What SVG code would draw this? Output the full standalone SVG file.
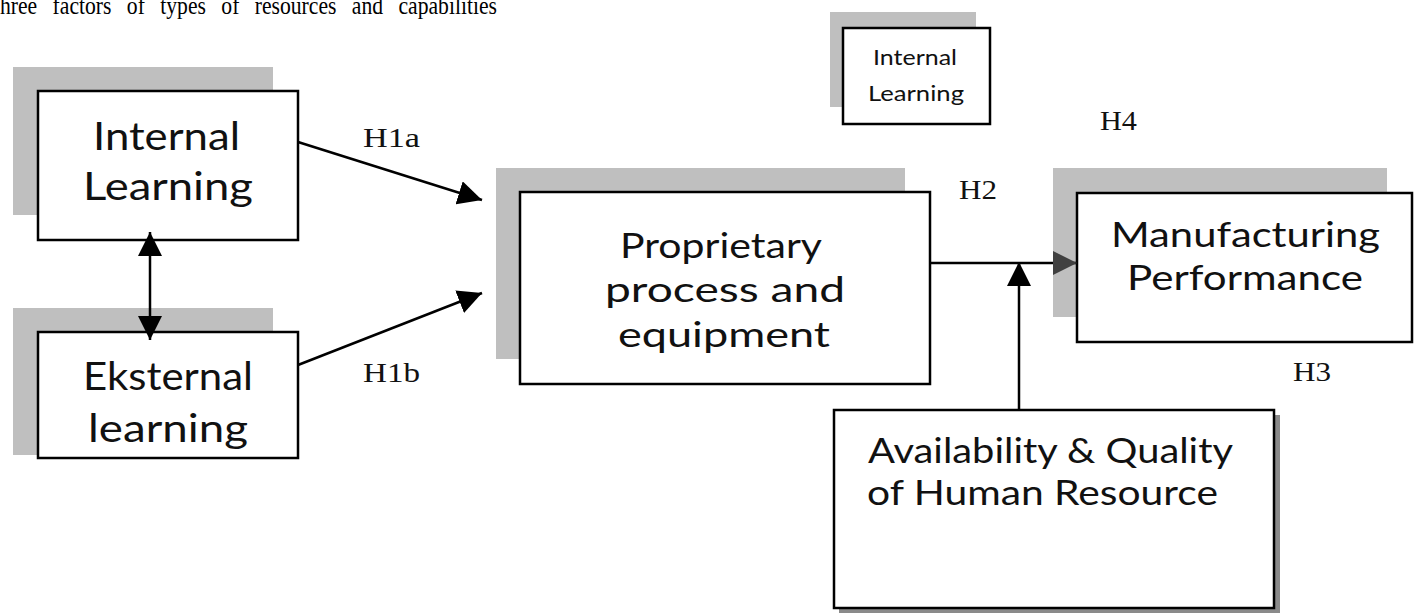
<svg xmlns="http://www.w3.org/2000/svg" width="1420" height="616" viewBox="0 0 1420 616">
  <style>
    .shadow { fill: #bfbfbf; }
    .hrshadow { fill: #8a8a8a; }
    .box { fill: #ffffff; stroke: #000000; stroke-width: 2.5; }
    .node { font-family: "Century Gothic", "Lato", sans-serif; fill: #111111; }
    .big { font-size: 38px; }
    .mid { font-size: 34px; }
    .small { font-size: 22px; }
    .lbl { font-family: "Liberation Serif", "Times New Roman", serif; font-size: 28px; fill: #111111; }
    .body { font-family: "Liberation Serif", "Times New Roman", serif; font-size: 26px; fill: #000000; }
    .conn { stroke: #000000; stroke-width: 2.5; fill: none; }
  </style>
  <defs>
    <marker id="tri" markerUnits="userSpaceOnUse" markerWidth="24" markerHeight="24" viewBox="0 0 22 22" refX="22" refY="11" orient="auto-start-reverse">
      <path d="M0,0 L22,11 L0,22 z" fill="#000000"/>
    </marker>
    <marker id="triGray" markerUnits="userSpaceOnUse" markerWidth="24" markerHeight="24" viewBox="0 0 22 22" refX="22" refY="11" orient="auto">
      <path d="M0,0 L22,11 L0,22 z" fill="#404040"/>
    </marker>
  </defs>

  <rect width="1420" height="616" fill="#ffffff"/>

  <!-- running text of the page above the figure, its upper part trimmed by the page edge -->
  <text class="body" x="0" y="14" textLength="497" lengthAdjust="spacingAndGlyphs" word-spacing="12">hree factors of types of resources and capabilities</text>

  <!-- nodes -->
  <g id="internal-learning">
    <rect class="shadow" x="13" y="67" width="260" height="148"/>
    <rect class="box" x="38" y="91" width="260" height="149"/>
    <text class="node big" x="93" y="150" textLength="147" lengthAdjust="spacingAndGlyphs">Internal</text>
    <text class="node big" x="83" y="200" textLength="170" lengthAdjust="spacingAndGlyphs">Learning</text>
  </g>

  <g id="eksternal-learning">
    <rect class="shadow" x="13" y="308" width="260" height="147"/>
    <rect class="box" x="38" y="332" width="260" height="126"/>
    <text class="node big" x="83" y="390" textLength="170" lengthAdjust="spacingAndGlyphs">Eksternal</text>
    <text class="node big" x="88" y="442" textLength="160" lengthAdjust="spacingAndGlyphs">learning</text>
  </g>

  <g id="proprietary-process">
    <rect class="shadow" x="496" y="168" width="409" height="191"/>
    <rect class="box" x="520" y="192" width="410" height="192"/>
    <text class="node mid" x="620" y="258" textLength="202" lengthAdjust="spacingAndGlyphs">Proprietary</text>
    <text class="node mid" x="605" y="302" textLength="240" lengthAdjust="spacingAndGlyphs">process and</text>
    <text class="node mid" x="618" y="347" textLength="212" lengthAdjust="spacingAndGlyphs">equipment</text>
  </g>

  <g id="internal-learning-small">
    <rect class="shadow" x="830" y="12" width="146" height="95"/>
    <rect class="box" x="843" y="28" width="147" height="96" stroke-width="2"/>
    <text class="node small" x="873" y="65" textLength="84" lengthAdjust="spacingAndGlyphs">Internal</text>
    <text class="node small" x="868" y="101" textLength="96" lengthAdjust="spacingAndGlyphs">Learning</text>
  </g>

  <g id="manufacturing-performance">
    <rect class="shadow" x="1053" y="168" width="334" height="149"/>
    <rect class="box" x="1077" y="193" width="335" height="149"/>
    <text class="node mid" x="1111" y="247" textLength="269" lengthAdjust="spacingAndGlyphs">Manufacturing</text>
    <text class="node mid" x="1127" y="290" textLength="236" lengthAdjust="spacingAndGlyphs">Performance</text>
  </g>

  <g id="human-resource">
    <rect class="hrshadow" x="839" y="415" width="441" height="198"/>
    <rect class="box" x="834" y="410" width="440" height="198"/>
    <text class="node mid" x="868" y="463" textLength="365" lengthAdjust="spacingAndGlyphs">Availability &amp; Quality</text>
    <text class="node mid" x="867" y="505" textLength="351" lengthAdjust="spacingAndGlyphs">of Human Resource</text>
  </g>

  <!-- connectors -->
  <g id="connectors">
    <line class="conn" x1="150" y1="232" x2="150" y2="340" marker-start="url(#tri)" marker-end="url(#tri)"/>
    <line class="conn" x1="298" y1="142" x2="482" y2="200" marker-end="url(#tri)"/>
    <line class="conn" x1="298" y1="365" x2="482" y2="293" marker-end="url(#tri)"/>
    <line class="conn" x1="930" y1="263" x2="1077" y2="263" marker-end="url(#triGray)"/>
    <line class="conn" x1="1019" y1="410" x2="1019" y2="262" marker-end="url(#tri)"/>
  </g>

  <!-- hypothesis labels -->
  <g id="labels">
    <text class="lbl" x="363" y="147" textLength="57" lengthAdjust="spacingAndGlyphs">H1a</text>
    <text class="lbl" x="363" y="382" textLength="57" lengthAdjust="spacingAndGlyphs">H1b</text>
    <text class="lbl" x="959" y="199" textLength="38" lengthAdjust="spacingAndGlyphs">H2</text>
    <text class="lbl" x="1293" y="381" textLength="38" lengthAdjust="spacingAndGlyphs">H3</text>
    <text class="lbl" x="1100" y="130" textLength="37" lengthAdjust="spacingAndGlyphs">H4</text>
  </g>
</svg>
